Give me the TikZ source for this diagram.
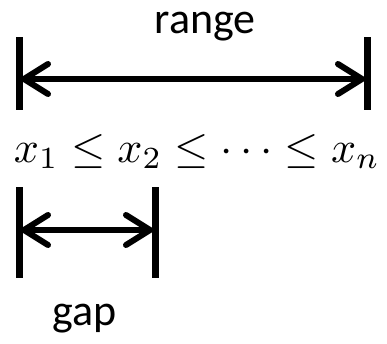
\documentclass[tikz,border=0pt]{standalone}
\usepackage{fontspec}
\setmainfont{Carlito}
\usetikzlibrary{arrows.meta}
\tikzset{
  bar/.style={line width=7pt},
  dim/.style={line width=6pt, {Straight Barb[length=24pt,width=30pt,round]}-{Straight Barb[length=24pt,width=30pt,round]}, shorten <=2pt, shorten >=2pt},
  lbl/.style={font=\fontsize{44}{50}\selectfont, inner sep=0pt, anchor=base},
  mathlbl/.style={inner sep=0pt, anchor=base, scale=4.4}
}
\begin{document}
\begin{tikzpicture}[x=1pt,y=-1pt]
\useasboundingbox (0,0) rectangle (387,343);
% range
\coordinate (r1t) at (19,37); \coordinate (r1b) at (19,110);
\coordinate (r2t) at (367,37); \coordinate (r2b) at (367,110);
\draw[bar] (r1t) -- (r1b);
\draw[bar] (r2t) -- (r2b);
\coordinate (ra) at (19,79); \coordinate (rb) at (367,79);
\draw[dim] (ra) -- (rb);
\node[lbl] (range) at (205,33) {range};
% sequence
\node[mathlbl] (seq) at (197,162) {$x_1\leq x_2\leq\cdots\leq x_n$};
% gap
\coordinate (g1t) at (19,187); \coordinate (g1b) at (19,278);
\coordinate (g2t) at (155,187); \coordinate (g2b) at (155,278);
\draw[bar] (g1t) -- (g1b);
\draw[bar] (g2t) -- (g2b);
\coordinate (ga) at (19,230); \coordinate (gb) at (155,230);
\draw[dim] (ga) -- (gb);
\node[lbl] (gap) at (85,325) {gap};
\end{tikzpicture}
\end{document}
